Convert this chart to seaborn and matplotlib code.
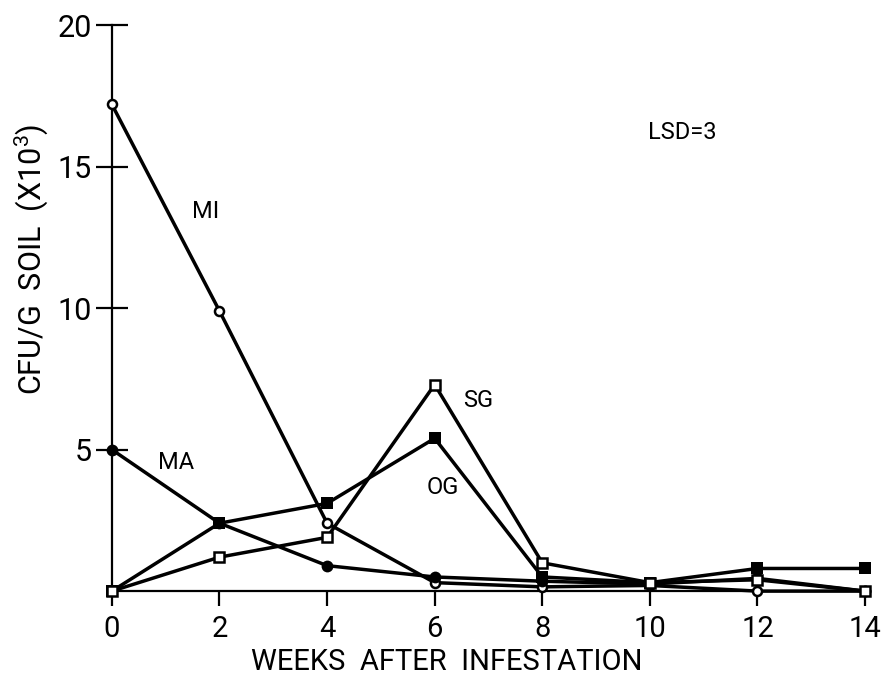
import matplotlib
matplotlib.use("Agg")
import matplotlib.pyplot as plt
import seaborn as sns
import pandas as pd

# Values
weeks = [0, 2, 4, 6, 8, 10, 12, 14]
mi = [17.2, 9.9, 2.4, 0.3, 0.15, 0.2, 0.0, 0.0]   # open circles
ma = [5.0, 2.4, 0.9, 0.5, 0.35, 0.25, 0.45, 0.0]  # filled circles
og = [0.0, 2.4, 3.1, 5.4, 0.5, 0.3, 0.8, 0.8]     # filled squares
sg = [0.0, 1.2, 1.9, 7.3, 1.0, 0.3, 0.4, 0.0]     # open squares

series_names = ["MI", "MA", "OG", "SG"]
label_pos = {"MI": (1.75, 13.4), "MA": (1.2, 4.55), "SG": (6.8, 6.75), "OG": (6.15, 3.65)}

sns.set_style("ticks")
plt.rcParams['font.family'] = ['Roboto', 'DejaVu Sans']
plt.rcParams['mathtext.default'] = 'regular'
for k in ['text.color', 'axes.labelcolor', 'xtick.color', 'ytick.color', 'axes.edgecolor']:
    plt.rcParams[k] = 'black'

fig = plt.figure(figsize=(8.81, 6.81), dpi=100)
ax = fig.add_axes([0.127, 0.132, 0.861, 0.831])

df = pd.DataFrame({"week": weeks * 4,
                   "cfu": mi + ma + og + sg,
                   "series": sum([[s] * len(weeks) for s in series_names], [])})

styles = {
    "MI": dict(marker="o", ms=6.5, mfc="white", mew=1.8),
    "MA": dict(marker="o", ms=8.5, mfc="black", mew=0),
    "OG": dict(marker="s", ms=8, mfc="black", mew=0),
    "SG": dict(marker="s", ms=7, mfc="white", mew=1.8),
}

for s in series_names:
    sub = df[df["series"] == s]
    sns.lineplot(data=sub, x="week", y="cfu", ax=ax, color="black", lw=2.5,
                 mec="black", clip_on=False, zorder=3, **styles[s])
    ax.text(*label_pos[s], s, fontsize=17, ha="center", va="center")

ax.text(10.6, 16.2, "LSD=3", fontsize=17, ha="center", va="center")

ax.set_xlim(0, 14.1)
ax.set_ylim(0, 20)
ax.set_xticks(weeks)
ax.set_yticks([5, 10, 15, 20])
ax.tick_params(axis="y", direction="inout", length=23, width=1.6, labelsize=22, pad=3)
ax.tick_params(axis="x", direction="out", length=11, width=1.6, labelsize=21, pad=6)
sns.despine(ax=ax)
ax.spines["left"].set_linewidth(1.6)
ax.spines["bottom"].set_linewidth(1.6)

ax.set_xlabel("WEEKS  AFTER  INFESTATION", fontsize=21)
ax.xaxis.set_label_coords(0.442, -0.1)
ax.set_ylabel("CFU/G  SOIL  (X10$^3$)", fontsize=22)
ax.yaxis.set_label_coords(-0.082, 0.587)

fig.savefig("out.png", dpi=100)
